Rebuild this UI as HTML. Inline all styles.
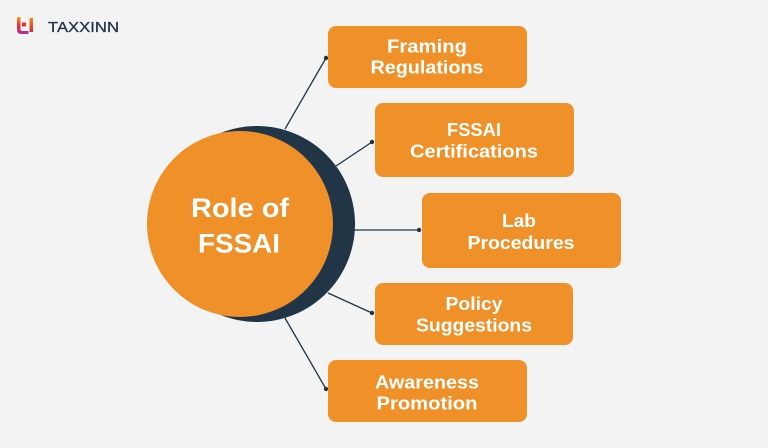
<!DOCTYPE html>
<html><head><meta charset="utf-8">
<style>
html,body{margin:0;padding:0;background:#f3f3f3;}
svg{display:block;}
</style></head>
<body>
<svg width="768" height="448" viewBox="0 0 768 448" xmlns="http://www.w3.org/2000/svg">
<defs>
<linearGradient id="lg1" x1="0" y1="0" x2="0" y2="1">
<stop offset="0" stop-color="#f6a11e"/><stop offset="0.45" stop-color="#e8332f"/><stop offset="1" stop-color="#b52c9c"/>
</linearGradient>
<linearGradient id="lg2" x1="0" y1="0" x2="0" y2="1">
<stop offset="0" stop-color="#f08a1c"/><stop offset="1" stop-color="#d5283a"/>
</linearGradient>
</defs>
<rect width="768" height="448" fill="#f3f3f3"/>
<!-- logo -->
<path d="M17 17 h3.5 v12 q0 2 2 2 h6 v3 h-7 q-4.5 0 -4.5 -4.5 z" fill="url(#lg1)"/>
<rect x="22" y="22.5" width="4" height="4" fill="#e8332f"/>
<rect x="29.5" y="18" width="3.5" height="14" fill="url(#lg2)"/>
<text x="48" y="32" font-family="Liberation Sans, sans-serif" font-size="15" fill="#24364a" textLength="71" lengthAdjust="spacingAndGlyphs" stroke="#24364a" stroke-width="0.3">TAXXINN</text>

<!-- connectors -->
<g stroke="#213547" stroke-width="1.3" fill="none">
<line x1="285" y1="129" x2="326" y2="58"/>
<line x1="336" y1="166" x2="372" y2="142"/>
<line x1="354" y1="230" x2="419" y2="230"/>
<line x1="328" y1="293" x2="372" y2="313"/>
<line x1="285" y1="318" x2="326" y2="389"/>
</g>
<g fill="#213547">
<circle cx="326" cy="58" r="2.2"/>
<circle cx="372" cy="142" r="2.2"/>
<circle cx="419" cy="230" r="2.2"/>
<circle cx="372" cy="313" r="2.2"/>
<circle cx="326" cy="389" r="2.2"/>
</g>

<!-- circles -->
<circle cx="257" cy="224" r="98" fill="#213547"/>
<circle cx="240" cy="224" r="93" fill="#ef9029"/>
<g font-family="Liberation Sans, sans-serif" font-weight="bold" fill="#ffffff" text-anchor="middle">
<text x="240" y="217" font-size="27" textLength="98" lengthAdjust="spacingAndGlyphs">Role of</text>
<text x="239" y="252.5" font-size="27" textLength="82" lengthAdjust="spacingAndGlyphs">FSSAI</text>
</g>

<!-- boxes -->
<g fill="#ef9029">
<rect x="328" y="26" width="199" height="62" rx="8"/>
<rect x="375" y="103" width="199" height="74" rx="8"/>
<rect x="422" y="193" width="199" height="75" rx="8"/>
<rect x="375" y="283" width="198" height="62" rx="8"/>
<rect x="328" y="360" width="199" height="62" rx="8"/>
</g>
<g font-family="Liberation Sans, sans-serif" font-weight="bold" font-size="18" fill="#ffffff" text-anchor="middle">
<text x="427" y="52.5" textLength="80" lengthAdjust="spacingAndGlyphs">Framing</text>
<text x="427" y="73.5" textLength="113" lengthAdjust="spacingAndGlyphs">Regulations</text>
<text x="474" y="136" textLength="54" lengthAdjust="spacingAndGlyphs">FSSAI</text>
<text x="474" y="157.5" textLength="128" lengthAdjust="spacingAndGlyphs">Certifications</text>
<text x="519" y="227" textLength="34" lengthAdjust="spacingAndGlyphs">Lab</text>
<text x="521" y="249" textLength="107" lengthAdjust="spacingAndGlyphs">Procedures</text>
<text x="474" y="310" textLength="57" lengthAdjust="spacingAndGlyphs">Policy</text>
<text x="474" y="331.5" textLength="116" lengthAdjust="spacingAndGlyphs">Suggestions</text>
<text x="427" y="388.5" textLength="104" lengthAdjust="spacingAndGlyphs">Awareness</text>
<text x="427" y="409.5" textLength="101" lengthAdjust="spacingAndGlyphs">Promotion</text>
</g>
</svg>
</body></html>
